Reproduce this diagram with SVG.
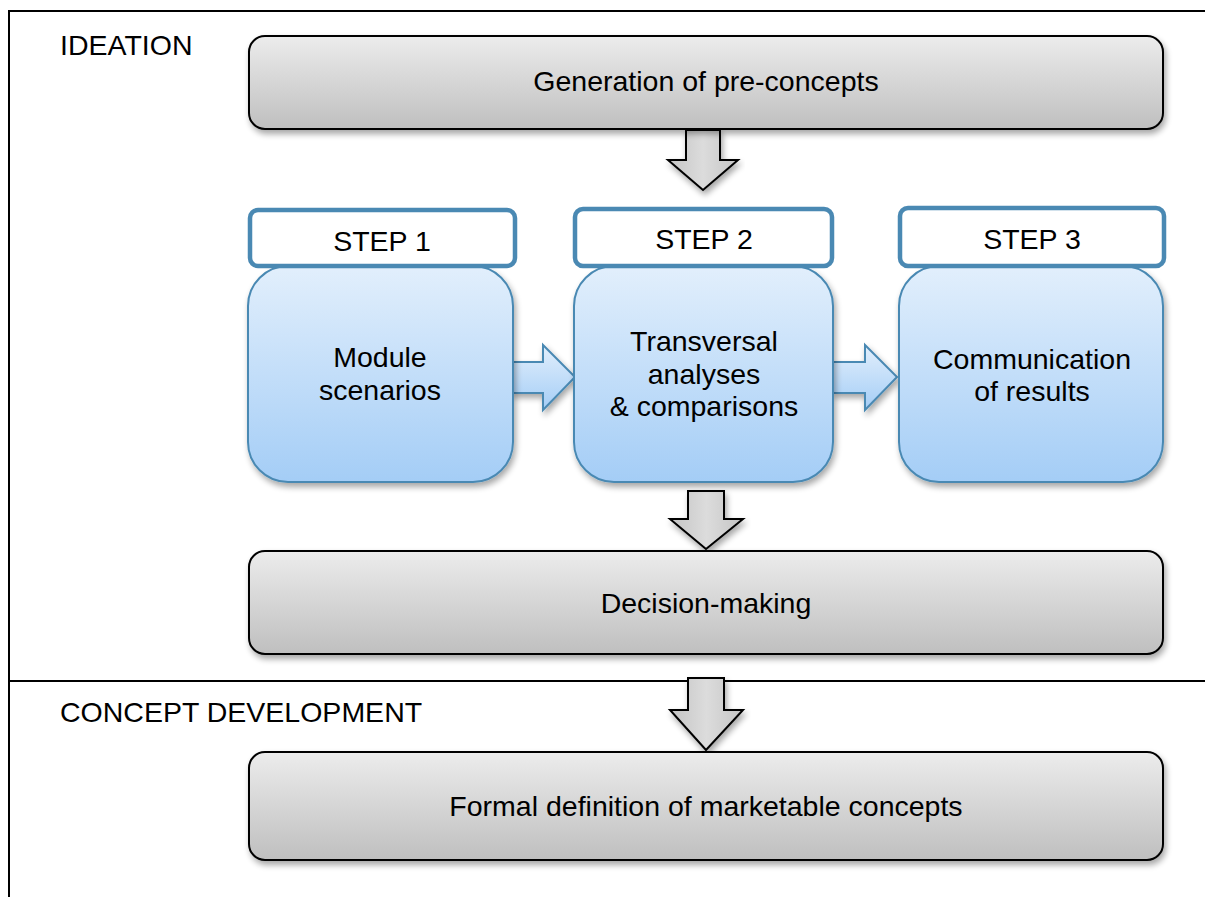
<svg xmlns="http://www.w3.org/2000/svg" width="1205" height="897" viewBox="0 0 1205 897">
<defs>
<linearGradient id="gray" x1="0" y1="0" x2="0" y2="1">
<stop offset="0" stop-color="#ececec"/>
<stop offset="1" stop-color="#bfbfbf"/>
</linearGradient>
<linearGradient id="blue" x1="0" y1="0" x2="0" y2="1">
<stop offset="0" stop-color="#e2effc"/>
<stop offset="1" stop-color="#a4cdf6"/>
</linearGradient>
<linearGradient id="grayH" x1="0" y1="0" x2="1" y2="0">
<stop offset="0" stop-color="#c4c4c4"/>
<stop offset="0.5" stop-color="#dcdcdc"/>
<stop offset="1" stop-color="#c4c4c4"/>
</linearGradient>
<filter id="sh" x="-10%" y="-10%" width="120%" height="130%">
<feGaussianBlur in="SourceAlpha" stdDeviation="3"/>
<feOffset dx="2" dy="4" result="b"/>
<feComponentTransfer><feFuncA type="linear" slope="0.35"/></feComponentTransfer>
<feMerge><feMergeNode/><feMergeNode in="SourceGraphic"/></feMerge>
</filter>
</defs>
<style>
text{font-family:"Liberation Sans",Arial,sans-serif;font-size:28.5px;fill:#000}
.c{text-anchor:middle}
.gbox{fill:url(#gray);stroke:#000;stroke-width:2}
.bbox{fill:url(#blue);stroke:#4a89b3;stroke-width:2}
.step{fill:#fff;stroke:#4a89b3;stroke-width:4.5}
.darr{fill:url(#grayH);stroke:#000;stroke-width:2}
.rarr{fill:url(#blue);stroke:#4a89b3;stroke-width:2}
.frame{fill:none;stroke:#000;stroke-width:2}
</style>
<g id="frame">
<path class="frame" d="M1205 11 H9 V897"/>
<path class="frame" d="M9 681 H1205"/>
<text x="60" y="55">IDEATION</text>
<text x="60" y="722">CONCEPT DEVELOPMENT</text>
</g>
<g id="connectors">
<path class="darr" filter="url(#sh)" d="M686 130 H720 V160 H738 L703 190 L668 160 H686 Z"/>
<path class="darr" filter="url(#sh)" d="M688 491 H724 V519 H743 L706 549 L670 519 H688 Z"/>
<path class="darr" filter="url(#sh)" d="M688 678 H724 V710 H743 L706 750 L670 710 H688 Z"/>
<path class="rarr" filter="url(#sh)" d="M512 362 H543 V345 L575 377 L543 410 V393 H512 Z"/>
<path class="rarr" filter="url(#sh)" d="M833 362 H865 V345 L897 377 L865 410 V393 H833 Z"/>
</g>
<g id="gen">
<rect class="gbox" filter="url(#sh)" x="249" y="36" width="914" height="93" rx="16"/>
<text class="c" x="706" y="91">Generation of pre-concepts</text>
</g>
<g id="step1">
<rect class="bbox" filter="url(#sh)" x="248" y="266" width="265" height="216" rx="40"/>
<rect class="step" x="250" y="210" width="265" height="56" rx="8"/>
<text class="c" x="382" y="251">STEP 1</text>
<text class="c" x="380" y="367">Module</text>
<text class="c" x="380" y="400">scenarios</text>
</g>
<g id="step2">
<rect class="bbox" filter="url(#sh)" x="574" y="266" width="259" height="216" rx="40"/>
<rect class="step" x="575" y="209" width="257" height="57" rx="8"/>
<text class="c" x="704" y="249">STEP 2</text>
<text class="c" x="704" y="351">Transversal</text>
<text class="c" x="704" y="384">analyses</text>
<text class="c" x="704" y="416">&amp; comparisons</text>
</g>
<g id="step3">
<rect class="bbox" filter="url(#sh)" x="899" y="266" width="264" height="216" rx="40"/>
<rect class="step" x="900" y="208" width="264" height="58" rx="8"/>
<text class="c" x="1032" y="249">STEP 3</text>
<text class="c" x="1032" y="369">Communication</text>
<text class="c" x="1032" y="401">of results</text>
</g>
<g id="decision">
<rect class="gbox" filter="url(#sh)" x="249" y="551" width="914" height="103" rx="16"/>
<text class="c" x="706" y="613">Decision-making</text>
</g>
<g id="formal">
<rect class="gbox" filter="url(#sh)" x="249" y="752" width="914" height="108" rx="16"/>
<text class="c" x="706" y="816">Formal definition of marketable concepts</text>
</g>
</svg>
